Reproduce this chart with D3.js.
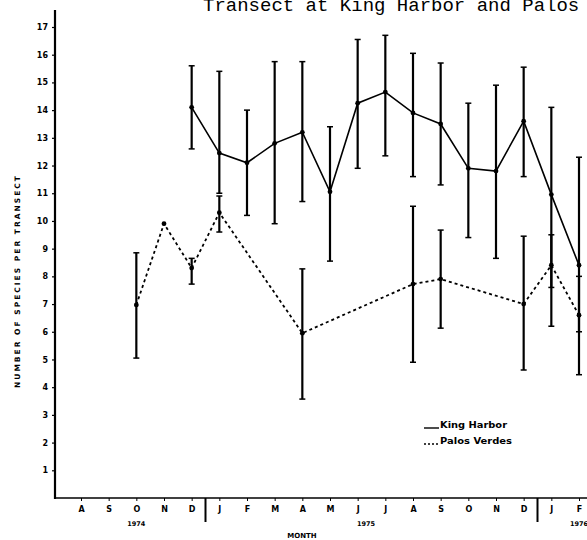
<!DOCTYPE html>
<html>
<head>
<meta charset="utf-8">
<script src="https://cdn.jsdelivr.net/npm/d3@7"></script>
<style>
  body { margin: 0; background: #fff; }
  svg { display: block; }
</style>
</head>
<body>
<svg id="chart"></svg>
<script>
// month ticks, Aug 1974 .. Feb 1976
var months = ["A","S","O","N","D","J","F","M","A","M","J","J","A","S","O","N","D","J","F"];
var yearLabels = ["1974", "1975", "1976"];
var yearAt = [2, 10.3, 18];
var yearBreaks = [4.5, 16.5];
var yTicks = [1,2,3,4,5,6,7,8,9,10,11,12,13,14,15,16,17];

// King Harbor (month index, mean, low, high)
var kingIdx  = [4, 5, 6, 7, 8, 9, 10, 11, 12, 13, 14, 15, 16, 17, 18];
var kingMean = [14.1, 12.45, 12.1, 12.8, 13.2, 11.05, 14.25, 14.65, 13.9, 13.5, 11.9, 11.8, 13.6, 10.95, 8.4];
var kingHigh = [15.6, 15.4, 14.0, 15.75, 15.75, 13.4, 16.55, 16.7, 16.05, 15.7, 14.25, 14.9, 15.55, 14.1, 12.3];
var kingLow  = [12.6, 11.0, 10.2, 9.9, 10.7, 8.55, 11.9, 12.35, 11.6, 11.3, 9.4, 8.65, 11.6, 7.6, 6.0];

// Palos Verdes
var pvIdx  = [2, 3, 4, 5, 8, 12, 13, 16, 17, 18];
var pvMean = [6.97, 9.9, 8.3, 10.3, 5.95, 7.72, 7.9, 7.0, 8.4, 6.6];
var pvHigh = [8.85, 9.9, 8.65, 10.9, 8.27, 10.53, 9.67, 9.45, 9.5, 8.0];
var pvLow  = [5.05, 9.9, 7.72, 9.6, 3.57, 4.9, 6.13, 4.62, 6.2, 4.45];

var width = 587, height = 540;
var svg = d3.select("#chart").attr("width", width).attr("height", height);

var x = d3.scaleLinear().domain([0, 18]).range([81, 579]);
var y = d3.scaleLinear().domain([0, 17]).range([498, 27]);

var lblFont = "DejaVu Sans, sans-serif";

// title (cut at top edge)
svg.append("text")
  .attr("x", 203).attr("y", 11)
  .text("Transect at King Harbor and Palos")
  .style("font-family", "Liberation Mono, monospace")
  .style("font-size", "19px")
  .style("fill", "#000");

// y axis
var yAxis = svg.append("g")
  .attr("transform", "translate(55,0)")
  .call(d3.axisLeft(y).tickValues(yTicks).tickSize(3).tickPadding(4).tickFormat(d3.format("d")));
yAxis.select(".domain").remove();
yAxis.selectAll("text").style("font-family", lblFont).style("font-size", "8px").style("font-weight", "bold");
yAxis.selectAll("line").attr("stroke-width", 1.2);
svg.append("line")
  .attr("x1", 55).attr("x2", 55).attr("y1", 10).attr("y2", y(0) + 1)
  .attr("stroke", "#000").attr("stroke-width", 2.2);

// x axis
var xAxis = svg.append("g")
  .attr("transform", "translate(0," + y(0) + ")")
  .call(d3.axisBottom(x).tickValues(d3.range(months.length)).tickSize(3).tickPadding(5)
    .tickFormat(function(d) { return months[d]; }));
xAxis.select(".domain").remove();
xAxis.selectAll("text").style("font-family", lblFont).style("font-size", "8px").style("font-weight", "bold");
svg.append("line")
  .attr("x1", 54).attr("x2", width).attr("y1", y(0)).attr("y2", y(0))
  .attr("stroke", "#000").attr("stroke-width", 1.6);

// year separators
svg.selectAll(".sep")
  .data(yearBreaks)
  .enter().append("line")
  .attr("x1", function(d) { return x(d); })
  .attr("x2", function(d) { return x(d); })
  .attr("y1", y(0)).attr("y2", y(0) + 24)
  .attr("stroke", "#000").attr("stroke-width", 2);

svg.selectAll(".year")
  .data(yearLabels)
  .enter().append("text")
  .attr("x", function(d, i) { return x(yearAt[i]); })
  .attr("y", 526)
  .attr("text-anchor", "middle")
  .text(function(d) { return d; })
  .style("font-family", lblFont).style("font-size", "6.5px").style("font-weight", "bold");

svg.append("text")
  .attr("x", 302).attr("y", 538)
  .attr("text-anchor", "middle")
  .text("MONTH")
  .style("font-family", lblFont).style("font-size", "7px").style("font-weight", "bold");

// y label
svg.append("text")
  .attr("transform", "translate(20,282) rotate(-90)")
  .attr("text-anchor", "middle")
  .attr("textLength", 212).attr("lengthAdjust", "spacing")
  .text("NUMBER OF SPECIES PER TRANSECT")
  .style("font-family", lblFont).style("font-size", "7.5px").style("font-weight", "bold");

// error bars
function errorBars(idx, lo, hi, cls) {
  var data = idx.map(function(d, i) { return {i: d, lo: lo[i], hi: hi[i]}; })
    .filter(function(d) { return d.hi > d.lo; });
  var g = svg.append("g").attr("class", cls);
  g.selectAll("line.v").data(data).enter().append("line")
    .attr("x1", function(d) { return x(d.i); }).attr("x2", function(d) { return x(d.i); })
    .attr("y1", function(d) { return y(d.hi); }).attr("y2", function(d) { return y(d.lo); })
    .attr("stroke", "#000").attr("stroke-width", 2.2);
  ["hi", "lo"].forEach(function(k) {
    g.selectAll("line.c" + k).data(data).enter().append("line")
      .attr("x1", function(d) { return x(d.i) - 3; }).attr("x2", function(d) { return x(d.i) + 3; })
      .attr("y1", function(d) { return y(d[k]); }).attr("y2", function(d) { return y(d[k]); })
      .attr("stroke", "#000").attr("stroke-width", 1.5);
  });
}
errorBars(kingIdx, kingLow, kingHigh, "kingErr");
errorBars(pvIdx, pvLow, pvHigh, "pvErr");

// lines
var line = d3.line().x(function(d) { return x(d[0]); }).y(function(d) { return y(d[1]); });
var kingPts = kingIdx.map(function(d, i) { return [d, kingMean[i]]; });
var pvPts = pvIdx.map(function(d, i) { return [d, pvMean[i]]; });

svg.append("path").datum(kingPts)
  .attr("d", line).attr("fill", "none")
  .attr("stroke", "#000").attr("stroke-width", 1.6);
svg.append("path").datum(pvPts)
  .attr("d", line).attr("fill", "none")
  .attr("stroke", "#000").attr("stroke-width", 1.8)
  .attr("stroke-dasharray", "3,3");

svg.selectAll(".kdot").data(kingPts).enter().append("circle")
  .attr("cx", function(d) { return x(d[0]); }).attr("cy", function(d) { return y(d[1]); })
  .attr("r", 2.4).attr("fill", "#000");
svg.selectAll(".pdot").data(pvPts).enter().append("circle")
  .attr("cx", function(d) { return x(d[0]); }).attr("cy", function(d) { return y(d[1]); })
  .attr("r", 2.4).attr("fill", "#000");

// legend
var legend = [{name: "King Harbor", dash: null}, {name: "Palos Verdes", dash: "2,2"}];
var lg = svg.selectAll(".legend").data(legend).enter().append("g")
  .attr("transform", function(d, i) { return "translate(424," + (427 + i * 16) + ")"; });
lg.append("line")
  .attr("x1", 0).attr("x2", 15).attr("y1", 1).attr("y2", 1)
  .attr("stroke", "#000").attr("stroke-width", 1.4)
  .attr("stroke-dasharray", function(d) { return d.dash; });
lg.append("text")
  .attr("x", 16).attr("y", 1)
  .attr("textLength", function(d, i) { return i === 0 ? 67 : 72; })
  .attr("lengthAdjust", "spacingAndGlyphs")
  .text(function(d) { return d.name; })
  .style("font-family", lblFont).style("font-size", "8px").style("font-weight", "bold");
</script>
</body>
</html>
